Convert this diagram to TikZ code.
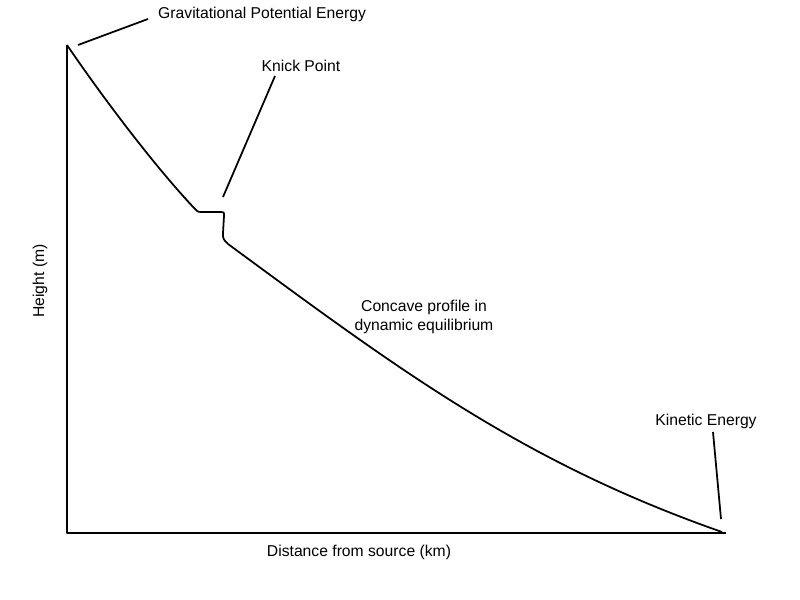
\documentclass[tikz,border=0pt]{standalone}
\usepackage{fontspec}
\setmainfont{Liberation Sans}
\begin{document}
\begin{tikzpicture}[
    x=0.03cm, y=-0.03cm,
    line/.style={line width=1.5pt, line join=round},
    lead/.style={line width=1.5pt},
    lbl/.style={font=\fontsize{13.4}{16}\selectfont, inner sep=0pt, align=center}
]
\useasboundingbox (0,0) rectangle (800,600);

% Axes
\coordinate (top) at (67,45);
\coordinate (origin) at (67,533);
\coordinate (xend) at (726,533);
\draw[line] (top) -- (origin) -- (xend);

% Profile: upper reach, knick point, lower reach
\coordinate (mouth) at (722,532);
\draw[line] (top) .. controls (110,108) and (160,172) .. (195,209)
    .. controls (198,212) .. (203,212) -- (221,212)
    .. controls (224,212) .. (224,216) -- (223,233)
    .. controls (223,239) .. (228,244)
    .. controls (398,369) and (522,462) .. (mouth);

% Labels
\node[lbl, anchor=west] (gpe) at (158,14) {Gravitational Potential Energy};
\node[lbl] (knick) at (301,66) {Knick Point};
\node[lbl] (concave) at (424,317) {Concave profile in\\dynamic equilibrium};
\node[lbl] (ke) at (706,421) {Kinetic Energy};
\node[lbl, rotate=90] (ylab) at (40,281) {Height (m)};
\node[lbl] (xlab) at (359,552) {Distance from source (km)};

% Leader lines
\coordinate (gpeA) at (78,45);
\coordinate (gpeB) at (148,19);
\draw[lead] (gpeA) -- (gpeB);
\coordinate (knickA) at (275,76);
\coordinate (knickB) at (223,197);
\draw[lead] (knickA) -- (knickB);
\coordinate (keA) at (713,432);
\coordinate (keB) at (721,519);
\draw[lead] (keA) -- (keB);

\end{tikzpicture}
\end{document}
